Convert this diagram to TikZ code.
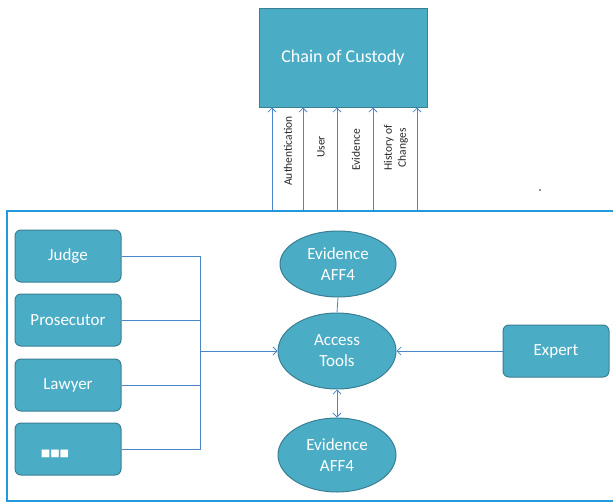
\documentclass[tikz,border=0pt]{standalone}
\usepackage{fontspec}
\setmainfont{Carlito}
\newfontfamily\symfont{DejaVu Sans}
\usetikzlibrary{shapes.geometric,arrows.meta}
\definecolor{tealfill}{HTML}{4BACC6}
\definecolor{tealdark}{HTML}{3A7F93}
\definecolor{linkblue}{HTML}{4A86C8}
\definecolor{frameblue}{HTML}{2299DD}
\definecolor{labelgray}{HTML}{262626}
\begin{document}
\begin{tikzpicture}[x=1pt,y=-1pt,
  rbox/.style={draw=tealdark,fill=tealfill,line width=1pt,rounded corners=6pt,
    minimum width=106pt,minimum height=52pt,inner sep=0pt,text=white,
    font=\fontsize{17}{19}\selectfont},
  ell/.style={ellipse,draw=tealdark,fill=tealfill,line width=1pt,inner sep=0pt,
    text=white,align=center,font=\fontsize{17}{21}\selectfont},
  link/.style={draw=linkblue,line width=0.8pt},
  tip/.style={-{Straight Barb[length=4pt,width=8pt]}},
  vlabel/.style={rotate=90,text=labelgray,font=\fontsize{11.5}{14}\selectfont,align=center,inner sep=0pt}
]
\useasboundingbox (0,0) rectangle (613,503);
% container frame
\draw[frameblue,line width=2.5pt] (7,211) rectangle (618,501);

% chain of custody
\node[draw=tealdark,fill=tealfill,line width=1pt,minimum width=168pt,minimum height=98pt,
  inner sep=0pt,text=white,font=\fontsize{18}{20}\selectfont] (coc) at (343,58) {Chain of Custody};

% arrow bases
\coordinate (b1) at (272,211);
\coordinate (b2) at (303,211);
\coordinate (b3) at (337,211);
\coordinate (b4) at (373,211);
\coordinate (b5) at (417,211);
\foreach \b in {b1,b2,b3,b4,b5}{
  \draw[link,tip] (\b) -- (\b |- coc.south);
}
\node[vlabel] (lauth) at (288,151) {Authentication};
\node[vlabel] (luser) at (321,147) {User};
\node[vlabel] (levid) at (356,150) {Evidence};
\node[vlabel] (lhist) at (396,148) {History of\\Changes};

% stray dot
\fill[labelgray] (540,190) circle (0.8pt);

% left boxes
\node[rbox] (judge) at (68,256) {Judge};
\node[rbox] (pros) at (68,320) {Prosecutor};
\node[rbox] (lawyer) at (68,385) {Lawyer};
\node[rbox] (dots) at (68,449) {};
\node[text=white,font=\symfont\fontsize{10}{10}\selectfont,inner sep=0pt] (dotsym) at (55,454) {■■■};

% ellipses
\node[ell,minimum width=116pt,minimum height=66pt] (ev1) at (338,264) {Evidence\\AFF4};
\node[ell,minimum width=118pt,minimum height=76pt] (acc) at (337,351) {Access\\Tools};
\node[ell,minimum width=118pt,minimum height=74pt] (ev2) at (337,455) {Evidence\\AFF4};

% expert
\node[rbox] (expert) at (556,351) {Expert};

% connectors
\coordinate (bus) at (200,351);
\draw[link] (judge.east) -| (bus);
\draw[link] (pros.east) -| (bus);
\draw[link] (lawyer.east) -| (bus);
\draw[link] (dots.east) -| (bus);
\draw[link,tip] (bus) -- (acc.west);
\draw[link,tip] (expert.west) -- (acc.east);
\draw[link] (ev1.south) -- (acc.north);
\draw[link,{Straight Barb[length=4pt,width=8pt]}-{Straight Barb[length=4pt,width=8pt]}] (acc.south) -- (ev2.north);
\end{tikzpicture}
\end{document}
